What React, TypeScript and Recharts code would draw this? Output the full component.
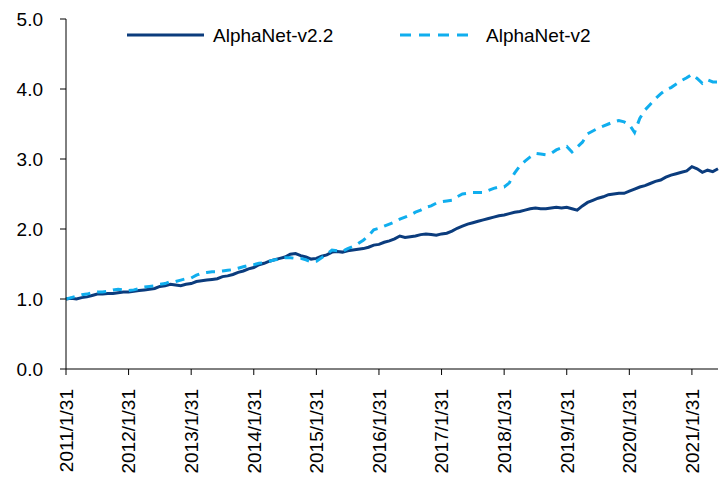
import React from 'react';
import { LineChart, Line, XAxis, YAxis, Legend } from 'recharts';

// month index from 2011/1/31
const yearLabels = ['2011', '2012', '2013', '2014', '2015', '2016', '2017', '2018', '2019', '2020', '2021'];
const yTicks = [0, 1, 2, 3, 4, 5];

const v22 = [
  1.00, 1.01, 1.00, 1.02, 1.03, 1.05, 1.07, 1.07, 1.08, 1.08, 1.09, 1.10,
  1.10, 1.11, 1.12, 1.13, 1.14, 1.15, 1.18, 1.19, 1.21, 1.20, 1.19, 1.21,
  1.22, 1.25, 1.26, 1.27, 1.28, 1.29, 1.32, 1.33, 1.35, 1.38, 1.40, 1.43,
  1.45, 1.49, 1.51, 1.54, 1.56, 1.58, 1.60, 1.64, 1.65, 1.62, 1.60, 1.57,
  1.58, 1.61, 1.63, 1.67, 1.68, 1.67, 1.69, 1.70, 1.71, 1.72, 1.74, 1.77,
  1.78, 1.81, 1.83, 1.86, 1.90, 1.88, 1.89, 1.90, 1.92, 1.93, 1.92, 1.91,
  1.93, 1.94, 1.97, 2.01, 2.04, 2.07, 2.09, 2.11, 2.13, 2.15, 2.17, 2.19,
  2.20, 2.22, 2.24, 2.25, 2.27, 2.29, 2.30, 2.29, 2.29, 2.30, 2.31, 2.30,
  2.31, 2.29, 2.27, 2.33, 2.38, 2.41, 2.44, 2.46, 2.49, 2.50, 2.51, 2.51,
  2.54, 2.57, 2.60, 2.62, 2.65, 2.68, 2.70, 2.74, 2.77, 2.79, 2.81, 2.83,
  2.89, 2.86, 2.81, 2.84, 2.82, 2.86,
];

const v2 = [
  1.00, 1.02, 1.04, 1.06, 1.07, 1.09, 1.10, 1.10, 1.11, 1.13, 1.14, 1.13,
  1.12, 1.13, 1.15, 1.17, 1.18, 1.19, 1.21, 1.22, 1.25, 1.25, 1.27, 1.29,
  1.30, 1.34, 1.37, 1.38, 1.39, 1.39, 1.40, 1.41, 1.42, 1.44, 1.46, 1.48,
  1.49, 1.51, 1.52, 1.54, 1.56, 1.57, 1.59, 1.59, 1.58, 1.58, 1.56, 1.53,
  1.54, 1.59, 1.64, 1.70, 1.69, 1.68, 1.72, 1.75, 1.79, 1.84, 1.90, 1.99,
  2.01, 2.04, 2.07, 2.10, 2.14, 2.17, 2.20, 2.24, 2.27, 2.31, 2.33, 2.37,
  2.39, 2.40, 2.41, 2.46, 2.50, 2.51, 2.52, 2.52, 2.52, 2.55, 2.58, 2.60,
  2.60, 2.66, 2.80, 2.90, 2.97, 3.03, 3.08, 3.07, 3.06, 3.08, 3.13, 3.16,
  3.18, 3.10, 3.17, 3.24, 3.36, 3.40, 3.44, 3.47, 3.50, 3.53, 3.55, 3.53,
  3.49, 3.38, 3.58, 3.70, 3.78, 3.86, 3.93, 3.99, 4.02, 4.07, 4.12, 4.16,
  4.21, 4.15, 4.08, 4.13, 4.10, 4.10,
];

const data = v22.map((v, i) => ({ m: i, v22: v, v2: v2[i] }));
const xTicks = yearLabels.map((_, i) => i * 12);

const FONT = '"Liberation Sans", Arial, sans-serif';
const DARK = '#0b3c7d';
const LIGHT = '#10aeee';

const XTick = (props: any) => {
  const { x, y, payload } = props;
  const label = yearLabels[Math.round(payload.value / 12)] + '/1/31';
  return (
    <g transform={`translate(${x},${y})`}>
      <text transform="rotate(-90)" textAnchor="end" dy="0.36em" fontSize={19} fontFamily={FONT} fill="#000">
        {label}
      </text>
    </g>
  );
};

const LegendContent = () => (
  <svg width={726} height={30} style={{ display: 'block' }}>
    <line x1={127} x2={204} y1={15} y2={15} stroke={DARK} strokeWidth={3} />
    <line x1={400} x2={472} y1={15} y2={15} stroke={LIGHT} strokeWidth={3} strokeDasharray="11 8" />
    <text x={213} y={22} fontSize={19} fontFamily={FONT}>AlphaNet-v2.2</text>
    <text x={486} y={22} fontSize={19} fontFamily={FONT}>AlphaNet-v2</text>
  </svg>
);

export default function App() {
  return (
    <div style={{ position: 'absolute', left: 0, top: 0, background: '#fff' }}>
      <LineChart width={726} height={486} data={data} margin={{ top: 19, right: 8, left: 10, bottom: 7 }}>
        <XAxis
          dataKey="m"
          type="number"
          domain={[0, 125]}
          ticks={xTicks}
          tick={<XTick />}
          tickSize={6}
          tickMargin={14}
          height={110}
          stroke="#000"
          interval={0}
        />
        <YAxis
          type="number"
          domain={[0, 5]}
          ticks={yTicks}
          tickFormatter={(v: number) => v.toFixed(1)}
          tick={{ fontSize: 19, fontFamily: FONT, fill: '#000' }}
          tickSize={6}
          tickMargin={17}
          width={56}
          stroke="#000"
          interval={0}
        />
        <Legend verticalAlign="middle" content={<LegendContent />} wrapperStyle={{ top: 20, left: 0, width: 726 }} />
        <Line dataKey="v22" name="AlphaNet-v2.2" stroke={DARK} strokeWidth={3} dot={false} isAnimationActive={false} />
        <Line dataKey="v2" name="AlphaNet-v2" stroke={LIGHT} strokeWidth={3} strokeDasharray="9 7" dot={false} isAnimationActive={false} />
      </LineChart>
    </div>
  );
}
